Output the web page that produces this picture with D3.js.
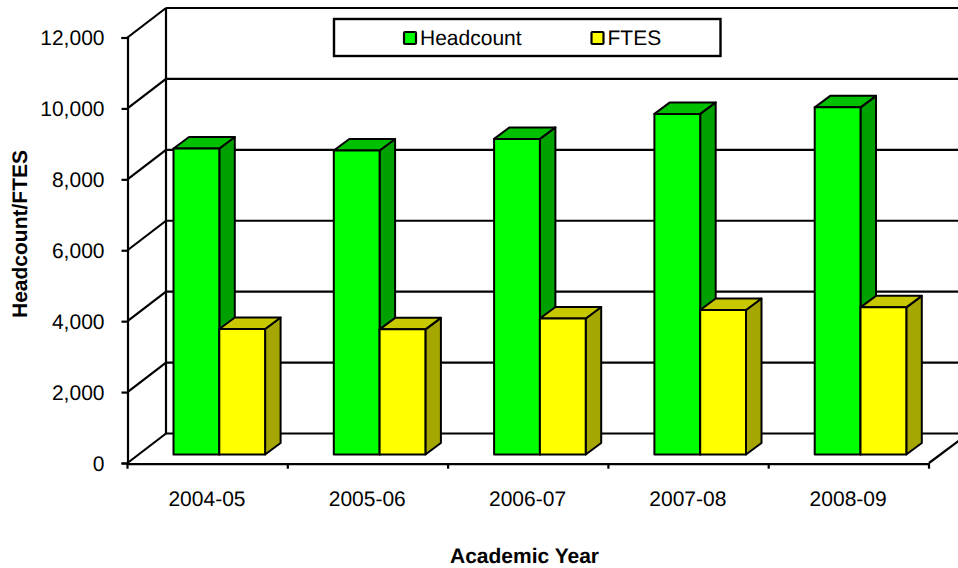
<!DOCTYPE html>
<html>
<head>
<meta charset="utf-8">
<script src="https://cdn.jsdelivr.net/npm/d3@7/dist/d3.min.js"></script>
<style>
html,body{margin:0;padding:0;background:#fff}
svg{display:block}
text{font-family:"Liberation Sans",Arial,sans-serif;fill:#000;text-rendering:geometricPrecision}
</style>
</head>
<body>
<svg id="c" width="958" height="568"></svg>
<script>
const categories = ["2004-05","2005-06","2006-07","2007-08","2008-09"];
const headcount = [8630,8575,8900,9605,9790];
const ftes = [3540,3530,3836,4076,4150];
const yTicks = [0,2000,4000,6000,8000,10000,12000];
const seriesNames = ["Headcount","FTES"];
const seriesValues = [headcount, ftes];
const palette = [
  {front:"#00ff00", top:"#00c000", side:"#00a000"},
  {front:"#ffff00", top:"#c8c800", side:"#a6a600"}
];

const svg = d3.select("#c");
const FS = 21, LW = 2.2;
const y = d3.scaleLinear().domain([0,12000]).range([463,37.5]);
const x = d3.scaleBand().domain(categories).range([127.5,929]);
const depth = {x:39.5, y:-29.5};
const barOff = {x:6, y:-8.5};
const barDepth = {x:15.5, y:-11.5};
const barW = 45.8;

// walls
const grid = svg.append("g").attr("fill","none").attr("stroke","#000").attr("stroke-width",LW);
grid.selectAll("line.h").data(yTicks).join("line").attr("class","h")
  .attr("x1",x.range()[0]+depth.x-1).attr("x2",x.range()[1]+depth.x)
  .attr("y1",d=>y(d)+depth.y).attr("y2",d=>y(d)+depth.y);
grid.selectAll("line.d").data(yTicks).join("line").attr("class","d")
  .attr("x1",x.range()[0]).attr("x2",x.range()[0]+depth.x-1)
  .attr("y1",d=>y(d)).attr("y2",d=>y(d)+depth.y);
grid.append("line").attr("x1",x.range()[0]+depth.x-1).attr("x2",x.range()[0]+depth.x-1)
  .attr("y1",y(12000)+depth.y).attr("y2",y(0)+depth.y);
grid.append("line").attr("x1",x.range()[1]).attr("x2",x.range()[1]+depth.x)
  .attr("y1",y(0)).attr("y2",y(0)+depth.y);

// axes
const yAxis = svg.append("g").attr("transform",`translate(${x.range()[0]},0)`)
  .call(d3.axisLeft(y).tickValues(yTicks).tickSize(6).tickPadding(17).tickFormat(d3.format(",")));
const xAxis = svg.append("g").attr("transform",`translate(0,${y(0)+0.7})`)
  .call(d3.axisBottom(x).tickSize(0).tickPadding(22));
[yAxis,xAxis].forEach(a=>{
  a.selectAll("path,line").attr("stroke","#000").attr("stroke-width",LW);
  a.selectAll("text").attr("font-size",FS).attr("font-family",'"Liberation Sans",Arial,sans-serif').attr("fill","#000");
});
yAxis.selectAll("text").attr("dy",7.3);
xAxis.selectAll("text").attr("y",42).attr("dy",0).attr("dx",-0.7);
xAxis.selectAll("line.edge").data(categories.concat("end")).join("line").attr("class","edge")
  .attr("x1",(d,i)=>x.range()[0]+i*x.step()).attr("x2",(d,i)=>x.range()[0]+i*x.step())
  .attr("y1",0).attr("y2",5).attr("stroke","#000").attr("stroke-width",LW);

// bars
const base = y(0)+barOff.y;
const h = v => y(0)-y(v);
seriesValues.forEach((vals,si)=>{
  const g = svg.append("g").attr("stroke","#000").attr("stroke-width",LW-0.2).attr("stroke-linejoin","round");
  const left = (d,i)=>x(categories[i])+barOff.x+40+si*barW;
  const bar = g.selectAll("g").data(vals).join("g");
  bar.append("path").attr("fill",palette[si].side).attr("d",(d,i)=>{
    const r=left(d,i)+barW, t=base-h(d);
    return `M${r},${t}l${barDepth.x},${barDepth.y}V${base+barDepth.y}l${-barDepth.x},${-barDepth.y}Z`;});
  bar.append("path").attr("fill",palette[si].top).attr("d",(d,i)=>{
    const l=left(d,i), t=base-h(d);
    return `M${l},${t}l${barDepth.x},${barDepth.y}h${barW}l${-barDepth.x},${-barDepth.y}Z`;});
  bar.append("rect").attr("fill",palette[si].front)
    .attr("x",left).attr("y",d=>base-h(d)).attr("width",barW).attr("height",d=>h(d));
});

// legend
svg.append("rect").attr("x",334).attr("y",19).attr("width",386.5).attr("height",37)
  .attr("fill","#fff").attr("stroke","#000").attr("stroke-width",2.4);
const lx = d3.scaleOrdinal().domain(seriesNames).range([404,591.5]);
const lg = svg.append("g").selectAll("g").data(seriesNames).join("g");
lg.append("rect").attr("x",d=>lx(d)).attr("y",32).attr("width",12).attr("height",12).attr("rx",1)
  .attr("fill",(d,i)=>palette[i].front).attr("stroke","#000").attr("stroke-width",2.2);
lg.append("text").attr("x",d=>lx(d)+16).attr("y",45).attr("font-size",FS).text(d=>d);

// titles
svg.append("text").attr("x",524.5).attr("y",563.3).attr("text-anchor","middle")
  .attr("font-size",FS).attr("font-weight","bold").text("Academic Year");
svg.append("text").attr("transform","translate(26.5,234) rotate(-90)").attr("text-anchor","middle")
  .attr("font-size",FS).attr("font-weight","bold").text("Headcount/FTES");
</script>
</body>
</html>
